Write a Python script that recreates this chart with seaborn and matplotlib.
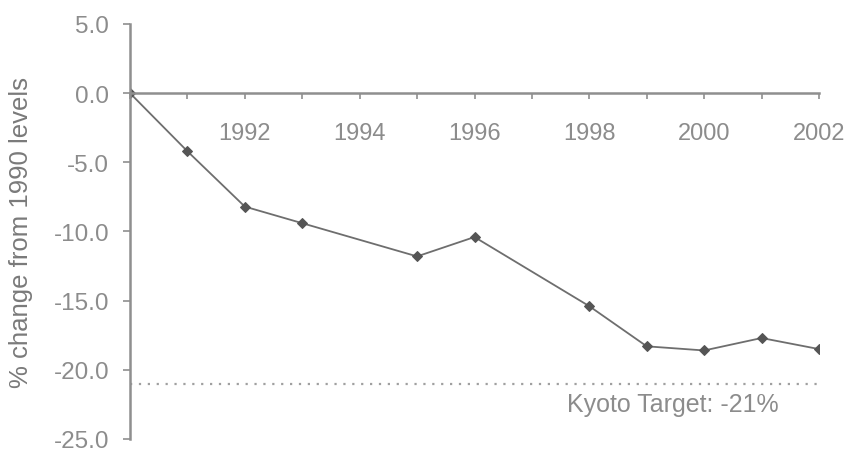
import matplotlib
matplotlib.use("Agg")
import matplotlib.pyplot as plt
import seaborn as sns
import pandas as pd
from matplotlib.ticker import FixedLocator, FixedFormatter

years = [1990, 1991, 1992, 1993, 1995, 1996, 1998, 1999, 2000, 2001, 2002]
change = [0.0, -4.2, -8.2, -9.4, -11.8, -10.4, -15.4, -18.3, -18.6, -17.7, -18.5]
kyoto_target = -21.0
kyoto_label = "Kyoto Target: -21%"
y_ticks = [5, 0, -5, -10, -15, -20, -25]
x_tick_years = list(range(1990, 2003))
x_tick_labels = [str(y) if (y % 2 == 0 and y > 1990) else "" for y in x_tick_years]
y_label = "% change from 1990 levels"

sns.set_theme(style="white")
plt.rcParams['font.family'] = ['Liberation Sans', 'DejaVu Sans']

grey_txt = "#8c8c8c"
axis_col = "#8f8f8f"

fig = plt.figure(figsize=(8.46, 4.52), dpi=100)
ax = fig.add_axes([130/846, 1-440/452, (819-130)/846, (440-25)/452])

df = pd.DataFrame({"year": years, "change": change})
sns.lineplot(data=df, x="year", y="change", ax=ax, color="#6e6e6e", linewidth=1.3,
             marker="D", markersize=5.5, markerfacecolor="#555555", markeredgecolor="#555555")

ax.plot([years[0], years[-1]], [kyoto_target, kyoto_target], linestyle=(0, (1, 3)),
        color="#a0a0a0", linewidth=1.6)
ax.text(1999.45, kyoto_target - 1.45, kyoto_label, ha="center", va="center",
        fontsize=18, color=grey_txt)

ax.set_xlim(1990, 2002)
ax.set_ylim(-25, 5)
ax.set_yticks(y_ticks)
ax.set_yticklabels([f"{v:.1f}" for v in y_ticks])
ax.xaxis.set_major_locator(FixedLocator(x_tick_years))
ax.xaxis.set_major_formatter(FixedFormatter(x_tick_labels))

for s in ["top", "right"]:
    ax.spines[s].set_visible(False)
ax.spines["bottom"].set_position(("data", 0))
for s in ["left", "bottom"]:
    ax.spines[s].set_color(axis_col)
    ax.spines[s].set_linewidth(1.8)

ax.tick_params(axis="x", direction="out", length=4, width=1.2, color=axis_col,
               labelsize=17, labelcolor=grey_txt, pad=17, bottom=True)
ax.tick_params(axis="y", direction="out", length=5, width=1.2, color=axis_col,
               labelsize=17.5, labelcolor=grey_txt, pad=10, left=True)

ax.set_xlabel("")
ax.set_ylabel(y_label, fontsize=18.5, color="#7a7a7a")
ax.yaxis.set_label_coords((33 - 130) / 689, 0.5)

fig.savefig("out.png", dpi=100)
